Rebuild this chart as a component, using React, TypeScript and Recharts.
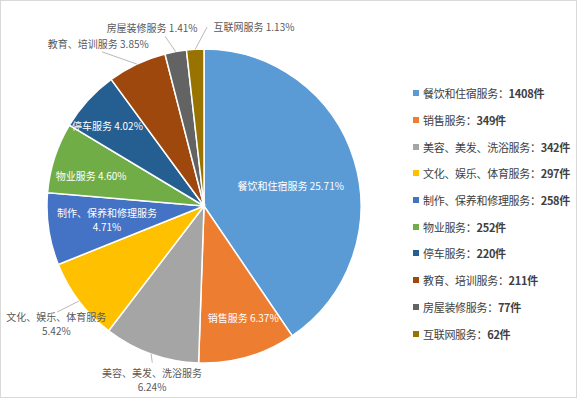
import React from 'react';
import { PieChart, Pie, Cell, Legend } from 'recharts';

const categories = [
  '餐饮和住宿服务',
  '销售服务',
  '美容、美发、洗浴服务',
  '文化、娱乐、体育服务',
  '制作、保养和修理服务',
  '物业服务',
  '停车服务',
  '教育、培训服务',
  '房屋装修服务',
  '互联网服务',
];
const counts = [1408, 349, 342, 297, 258, 252, 220, 211, 77, 62];
const percentLabels = ['25.71%', '6.37%', '6.24%', '5.42%', '4.71%', '4.60%', '4.02%', '3.85%', '1.41%', '1.13%'];
const colors = ['#5B9BD5', '#ED7D31', '#A5A5A5', '#FFC000', '#4472C4', '#70AD47', '#255E91', '#9E480E', '#636363', '#997300'];

const data = categories.map((name, i) => ({ name, value: counts[i], pct: percentLabels[i] }));

type LabelLayout = { inside: boolean; r: number; dA: number; twoLine: boolean; lineR?: number; lineDA?: number };
// label placement relative to each slice (radius in px, angle offset in degrees)
const labelLayout: LabelLayout[] = [
  { inside: true, r: 89, dA: 4.1, twoLine: false },
  { inside: true, r: 118, dA: -3.3, twoLine: false },
  { inside: false, r: 181, dA: -3.0, twoLine: true, lineR: 165, lineDA: -1.4 },
  { inside: false, r: 189, dA: -1.4, twoLine: true, lineR: 181, lineDA: 1.4 },
  { inside: true, r: 98, dA: 0.3, twoLine: true },
  { inside: true, r: 117, dA: -2.6, twoLine: false },
  { inside: true, r: 126, dA: -2.4, twoLine: false },
  { inside: false, r: 194, dA: -7.7, twoLine: false, lineR: 185, lineDA: -8.2 },
  { inside: false, r: 186, dA: -5.8, twoLine: false, lineR: 174, lineDA: -2.5 },
  { inside: false, r: 186, dA: 18.8, twoLine: false, lineR: 179, lineDA: 4.2 },
];

const FONT = '"Noto Sans CJK SC", "Noto Sans", sans-serif';
const RAD = Math.PI / 180;

const polar = (cx: number, cy: number, r: number, theta: number) => ({
  x: cx + r * Math.sin(theta * RAD),
  y: cy - r * Math.cos(theta * RAD),
});

const renderLabel = (props: any) => {
  const { cx, cy, midAngle, outerRadius, index } = props;
  const lay = labelLayout[index];
  const item = data[index];
  const theta = 90 - midAngle; // clockwise from top
  const p = polar(cx, cy, lay.r, theta + lay.dA);
  const fill = lay.inside ? '#ffffff' : '#595959';
  const els: React.ReactNode[] = [];
  if (!lay.inside && lay.lineR !== undefined) {
    const a = polar(cx, cy, outerRadius, theta);
    const b = polar(cx, cy, lay.lineR, theta + (lay.lineDA || 0));
    els.push(<line key="l" x1={a.x} y1={a.y} x2={b.x} y2={b.y} stroke="#a6a6a6" strokeWidth={0.8} />);
  }
  if (lay.twoLine) {
    els.push(
      <text key="t1" x={p.x} y={p.y - 7} fill={fill} fontSize={10} fontFamily={FONT} textAnchor="middle" dominantBaseline="central">
        {item.name}
      </text>
    );
    els.push(
      <text key="t2" x={p.x} y={p.y + 7} fill={fill} fontSize={10} fontFamily={FONT} textAnchor="middle" dominantBaseline="central">
        {item.pct}
      </text>
    );
  } else {
    els.push(
      <text key="t" x={p.x} y={p.y} fill={fill} fontSize={10} fontFamily={FONT} textAnchor="middle" dominantBaseline="central">
        {item.name + ' ' + item.pct}
      </text>
    );
  }
  return <g>{els}</g>;
};

const renderLegend = (props: any) => {
  const payload = [...(props.payload || [])].sort(
    (a: any, b: any) => categories.indexOf(a.value) - categories.indexOf(b.value)
  );
  return (
    <div style={{ fontFamily: FONT, fontSize: 11, color: '#404040' }}>
      {payload.map((entry: any, i: number) => (
        <div key={i} style={{ height: 26.7, display: 'flex', alignItems: 'center', whiteSpace: 'nowrap' }}>
          <span style={{ display: 'inline-block', width: 6, height: 6, background: entry.color, marginRight: 4 }} />
          <span style={{ letterSpacing: -0.3 }}>
            {entry.value}：<b>{counts[categories.indexOf(entry.value)]}件</b>
          </span>
        </div>
      ))}
    </div>
  );
};

export default function App() {
  return (
    <div style={{ position: 'absolute', left: 0, top: 0, width: 579, height: 399, background: '#fff' }}>
      <div
        style={{
          position: 'absolute',
          left: 0,
          top: 0,
          width: 577,
          height: 398,
          boxSizing: 'border-box',
          border: '1px solid #d9d9d9',
        }}
      />
      <PieChart width={579} height={399} margin={{ top: 0, right: 0, bottom: 0, left: 0 }}>
        <Pie
          data={data}
          dataKey="value"
          nameKey="name"
          cx={204}
          cy={206}
          outerRadius={157}
          startAngle={90}
          endAngle={-270}
          stroke="#ffffff"
          strokeWidth={1.5}
          label={renderLabel}
          labelLine={false}
          isAnimationActive={false}
        >
          {data.map((d, i) => (
            <Cell key={d.name} fill={colors[i]} />
          ))}
        </Pie>
        <Legend
          layout="vertical"
          align="right"
          verticalAlign="top"
          itemSorter={null as any}
          content={renderLegend}
          wrapperStyle={{ left: 413, top: 80, right: 'auto', width: 160 }}
        />
      </PieChart>
    </div>
  );
}
